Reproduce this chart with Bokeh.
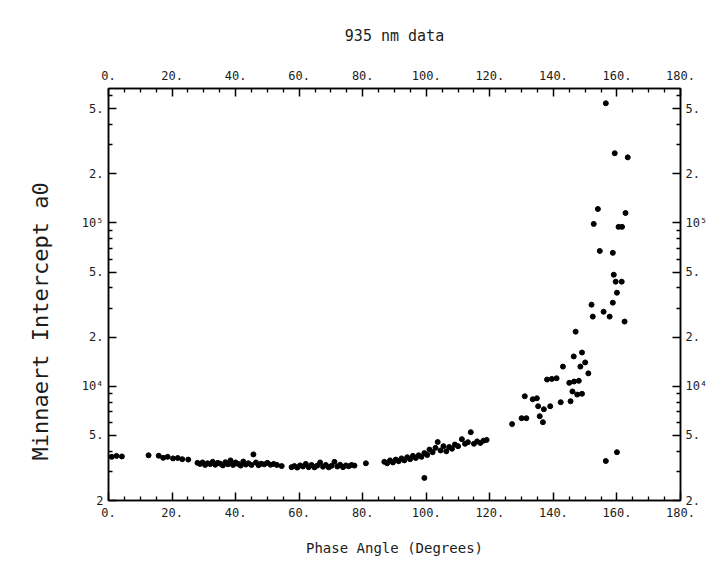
from bokeh.plotting import figure
from bokeh.models import Range1d, FixedTicker, LinearAxis, LogAxis, Title
from bokeh.embed import file_html
from bokeh.resources import INLINE

# Phase angle (degrees) and Minnaert intercept a0
phase = [
    1.0, 2.5, 4.2,
    12.6, 15.8, 17.2, 18.6, 20.3, 21.8, 23.2, 25.1,
    28.0, 28.8, 29.6, 30.4, 31.2, 32.0, 32.8, 33.6, 34.4, 35.2, 36.0, 36.8,
    37.6, 38.4, 39.2, 40.0, 40.8, 41.6, 42.4, 43.2, 44.0, 45.0, 45.6, 46.4,
    47.2, 48.0, 49.0, 50.0, 51.0, 52.0, 53.0,
    54.5,
    57.6, 58.5, 59.4, 60.3, 61.2, 62.1, 63.0, 63.9, 64.8, 65.7, 66.6, 67.5,
    68.4, 69.3, 70.2, 71.1, 72.0, 72.9, 73.8, 74.7, 75.6, 76.5, 77.4,
    81.0,
    86.8, 87.7, 88.6, 89.5, 90.4, 91.3, 92.2, 93.1, 94.0, 94.9, 95.8, 96.7,
    97.6, 98.5, 99.4, 100.3, 99.4,
    101.0, 102.0, 102.9, 103.6, 104.5, 105.4, 106.3, 107.2, 108.1, 109.0,
    110.0, 111.2, 112.2, 113.1, 114.0, 115.0, 116.0, 117.0, 118.0, 119.0,
    127.0, 130.0, 131.5, 131.0, 133.5, 135.2, 134.8, 137.0, 135.7, 136.7,
    139.0, 138.0, 139.5, 141.0, 143.0, 142.3, 145.4, 145.0, 146.5, 148.0,
    146.0, 147.5, 149.0, 146.4, 149.0, 150.0, 148.5, 147.0, 151.0, 152.0,
    152.4, 155.8, 157.7, 158.7, 162.4, 156.5, 160.0,
    156.5, 159.3, 163.4, 154.0, 162.7, 152.7, 160.5, 161.6, 154.6, 158.7,
    159.0, 159.6, 161.5, 160.0,
]
a0 = [
    3700, 3750, 3720,
    3780, 3760, 3650, 3700, 3620, 3640, 3580, 3560,
    3400, 3350, 3420, 3300, 3380, 3340, 3450, 3310, 3400, 3360, 3280, 3430,
    3330, 3520, 3300, 3420, 3350, 3270, 3460, 3320, 3380, 3300, 3830, 3420,
    3290, 3360, 3330, 3400, 3310, 3350, 3300,
    3250,
    3200, 3250, 3180, 3280, 3230, 3350, 3200, 3300, 3190, 3270, 3420, 3220,
    3300, 3190, 3260, 3450, 3230, 3310, 3200, 3280, 3240, 3300, 3270,
    3380,
    3450, 3380, 3520, 3420, 3560, 3480, 3620, 3520, 3680, 3580, 3750, 3640,
    3780, 3700, 3900, 3800, 2750,
    4100, 3950, 4200, 4560, 4050, 4300, 4000, 4250, 4150, 4400,
    4300, 4750, 4450, 4550, 5240, 4450, 4600, 4500, 4650, 4700,
    5870, 6380, 6380, 8690, 8330, 7550, 8450, 7240, 6560, 6030,
    7550, 11000, 11100, 11200, 13200, 7990, 8100, 10500, 10700, 10800,
    9300, 8900, 9000, 15240, 16100, 14000, 13200, 21600, 12000, 31600,
    26700, 28600, 26700, 32500, 24900, 3490, 3950,
    540000, 267000, 252000, 121700, 115000, 98600, 94600, 94600, 67400, 65600,
    48200, 43700, 43700, 37400,
]

x_ticks = [0, 20, 40, 60, 80, 100, 120, 140, 160, 180]
x_tick_labels = ["0.", "20.", "40.", "60.", "80.", "100.", "120.", "140.", "160.", "180."]
x_minor = [v for v in range(0, 181, 5) if v % 20 != 0]

y_ticks = [2000, 5000, 10000, 20000, 50000, 100000, 200000, 500000]
y_labels_left = ["2", "5.", "10\u2074", "2.", "5.", "10\u2075", "2.", "5."]
y_labels_right = ["2.", "5.", "10\u2074", "2.", "5.", "10\u2075", "2.", "5."]
y_minor = [3000, 4000, 6000, 7000, 8000, 9000,
           30000, 40000, 60000, 70000, 80000, 90000,
           300000, 400000, 600000]

title_text = "935 nm data"
x_title = "Phase Angle (Degrees)"
y_title = "Minnaert Intercept a0"

FONT = "DejaVu Sans Mono"
INK = "#1c1c1c"

p = figure(width=715, height=559,
           x_range=Range1d(0, 180), y_range=Range1d(2000, 6.65e5),
           y_axis_type="log", output_backend="svg", toolbar_location=None,
           min_border_left=107, min_border_right=35,
           min_border_top=88, min_border_bottom=59,
           title=title_text)

bottom_axis = p.xaxis[0]
left_axis = p.yaxis[0]

p.title.align = "center"
p.title.vertical_align = "middle"
p.title.text_font = FONT
p.title.text_font_size = "15px"
p.title.text_font_style = "normal"
p.title.text_color = INK
p.title.standoff = 43

p.grid.visible = False
p.outline_line_color = "black"
p.outline_line_width = 1.5
p.background_fill_color = "white"
p.border_fill_color = "white"

top_axis = LinearAxis()
right_axis = LogAxis()
p.add_layout(top_axis, "above")
p.add_layout(right_axis, "right")

def style(ax):
    ax.axis_line_color = "black"
    ax.axis_line_width = 1.5
    ax.major_tick_line_color = "black"
    ax.major_tick_line_width = 1.5
    ax.minor_tick_line_color = "black"
    ax.minor_tick_line_width = 1.3
    ax.major_tick_in = 8
    ax.major_tick_out = 0
    ax.minor_tick_in = 4
    ax.minor_tick_out = 0
    ax.major_label_text_font = FONT
    ax.major_label_text_font_size = "12px"
    ax.major_label_text_color = INK
    ax.major_label_standoff = 5
    ax.axis_label_text_font = FONT
    ax.axis_label_text_font_style = "normal"
    ax.axis_label_text_color = INK

for ax in (bottom_axis, top_axis):
    style(ax)
    ax.ticker = FixedTicker(ticks=x_ticks, minor_ticks=x_minor)
    ax.major_label_overrides = {t: s for t, s in zip(x_ticks, x_tick_labels)}
top_axis.major_label_standoff = 9
bottom_axis.major_label_standoff = 7

style(left_axis)
left_axis.ticker = FixedTicker(ticks=y_ticks, minor_ticks=y_minor)
left_axis.major_label_overrides = {t: s for t, s in zip(y_ticks, y_labels_left)}
style(right_axis)
right_axis.ticker = FixedTicker(ticks=y_ticks, minor_ticks=y_minor)
right_axis.major_label_overrides = {t: s for t, s in zip(y_ticks, y_labels_right)}

bottom_axis.axis_label = x_title
bottom_axis.axis_label_text_font_size = "14px"
bottom_axis.axis_label_standoff = 20

ytitle = Title(text=y_title, align="left", offset=40, standoff=51,
               text_font=FONT, text_font_size="22px", text_font_style="normal",
               text_color=INK)
p.add_layout(ytitle, "left")

p.scatter(phase, a0, size=5, color="black", line_color="black")

open("out.html", "w").write(file_html(p, INLINE))
